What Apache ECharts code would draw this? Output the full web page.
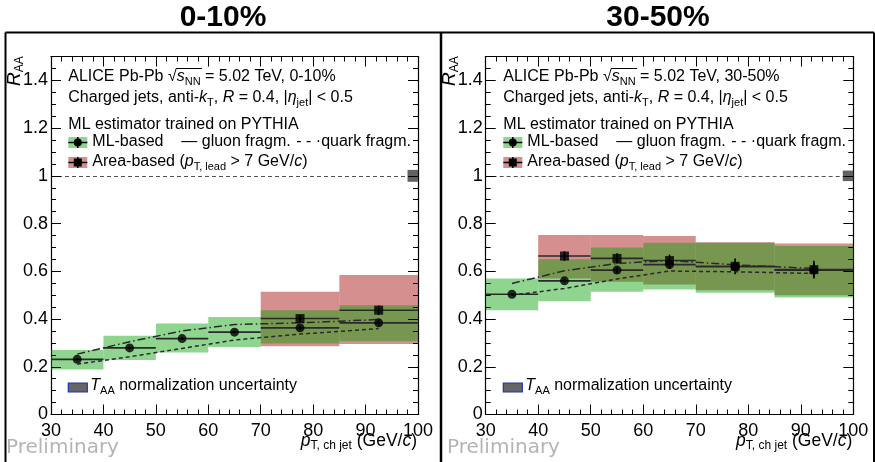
<!DOCTYPE html>
<html><head><meta charset="utf-8">
<script src="https://cdn.jsdelivr.net/npm/echarts@6/dist/echarts.min.js"></script>
<style>html,body{margin:0;padding:0;background:#fff}
#wrap{position:relative;width:875px;height:462px}
#c,#t{position:absolute;left:0;top:0;width:875px;height:462px}
#t{pointer-events:none}</style>
</head><body><div id="wrap"><div id="c"></div><div id="t"></div></div>
<script>
// ---------- data ----------
const binLo = [30, 40, 50, 60, 70, 85];
const binHi = [40, 50, 60, 70, 85, 100];
const binCenter = [35, 45, 55, 65, 77.5, 92.5];

// 0-10%
const ml010 = [0.231, 0.279, 0.318, 0.345, 0.363, 0.384];
const ml010SysLo = [0.189, 0.228, 0.260, 0.283, 0.298, 0.307];
const ml010SysHi = [0.270, 0.330, 0.381, 0.409, 0.437, 0.458];
const ml010Stat = [0.004, 0.005, 0.006, 0.007, 0.010, 0.014];
const area010Lo = [70, 85];
const area010Hi = [85, 100];
const area010Center = [77.5, 92.5];
const area010 = [0.402, 0.437];
const area010SysLo = [0.286, 0.295];
const area010SysHi = [0.514, 0.584];
const area010Stat = [0.015, 0.020];
const gluon010 = [0.253, 0.305, 0.350, 0.377, 0.384, 0.398];
const quark010 = [0.211, 0.242, 0.277, 0.312, 0.337, 0.360];

// 30-50%
const ml3050 = [0.504, 0.560, 0.605, 0.628, 0.619, 0.605];
const ml3050SysLo = [0.437, 0.475, 0.514, 0.524, 0.510, 0.490];
const ml3050SysHi = [0.570, 0.650, 0.700, 0.720, 0.720, 0.706];
const ml3050Stat = [0.005, 0.008, 0.012, 0.018, 0.025, 0.030];
const area3050Lo = [40, 50, 60, 70, 85];
const area3050Hi = [50, 60, 70, 85, 100];
const area3050Center = [45, 55, 65, 77.5, 92.5];
const area3050 = [0.664, 0.654, 0.645, 0.621, 0.607];
const area3050SysLo = [0.570, 0.556, 0.545, 0.521, 0.500];
const area3050SysHi = [0.752, 0.752, 0.748, 0.722, 0.717];
const area3050Stat = [0.020, 0.022, 0.025, 0.033, 0.037];
const gluon3050 = [0.549, 0.602, 0.633, 0.645, 0.627, 0.612];
const quark3050 = [0.500, 0.528, 0.568, 0.601, 0.598, 0.591];

// normalization (T_AA) uncertainty boxes
const taaLo = [98];
const taaHi = [100];
const taaCenter = 1;
const taaErr010 = 0.025;
const taaErr3050 = 0.022;
const unity = 1;

// axes
const xTicks = [30, 40, 50, 60, 70, 80, 90, 100];
const yMax = 1.5;
const yMajorStep = 0.2;
const yMinorStep = 0.05;
const panelTitles = ['0-10%', '30-50%'];

// ---------- style ----------
const FONT = '"Liberation Sans", Arial, Helvetica, sans-serif';
const GREEN = 'rgba(0,160,0,0.44)';
const RED = 'rgba(160,0,0,0.44)';
const LINE = '#2a2a2a';

const GRIDS = [
  {left: 51, top: 56.5, width: 367, height: 358},
  {left: 485.7, top: 56.5, width: 367.6, height: 358}
];

function boxSeries(lo, hi, ylo, yhi, color, ai, z) {
  return {
    type: 'custom', xAxisIndex: ai, yAxisIndex: ai, z: z, silent: true,
    data: lo.map((l, i) => [l, hi[i], ylo[i], yhi[i]]),
    encode: {x: [0, 1], y: [2, 3]},
    renderItem: (params, api) => {
      const p1 = api.coord([api.value(0), api.value(3)]);
      const p2 = api.coord([api.value(1), api.value(2)]);
      return {type: 'rect', shape: {x: p1[0], y: p1[1], width: p2[0] - p1[0], height: p2[1] - p1[1]},
              style: {fill: color}};
    }
  };
}

function errSeries(lo, hi, xc, y, stat, ai) {
  return {
    type: 'custom', xAxisIndex: ai, yAxisIndex: ai, z: 4, silent: true,
    data: xc.map((x, i) => [lo[i], hi[i], x, y[i], stat[i]]),
    encode: {x: [0, 1], y: 3},
    renderItem: (params, api) => {
      const a = api.coord([api.value(0), api.value(3)]);
      const b = api.coord([api.value(1), api.value(3)]);
      const c = api.coord([api.value(2), api.value(3) - api.value(4)]);
      const d = api.coord([api.value(2), api.value(3) + api.value(4)]);
      return {type: 'group', children: [
        {type: 'line', shape: {x1: a[0], y1: a[1], x2: b[0], y2: b[1]}, style: {stroke: LINE, lineWidth: 1.6}},
        {type: 'line', shape: {x1: c[0], y1: c[1], x2: d[0], y2: d[1]}, style: {stroke: '#000', lineWidth: 1.6}}
      ]};
    }
  };
}

function panelSeries(ai, d) {
  return [
    boxSeries(d.aLo, d.aHi, d.aSysLo, d.aSysHi, RED, ai, 1),
    boxSeries(binLo, binHi, d.mSysLo, d.mSysHi, GREEN, ai, 2),
    boxSeries(taaLo, taaHi, [taaCenter - d.taa], [taaCenter + d.taa], 'rgba(70,70,70,0.85)', ai, 3),
    errSeries(binLo, binHi, binCenter, d.m, d.mStat, ai),
    errSeries(d.aLo, d.aHi, d.aC, d.a, d.aStat, ai),
    {type: 'line', xAxisIndex: ai, yAxisIndex: ai, z: 5, silent: true, showSymbol: false,
     data: binCenter.map((x, i) => [x, d.g[i]]),
     lineStyle: {color: LINE, width: 1.5, type: [8, 3, 1.5, 3]},
     markLine: {symbol: 'none', silent: true, label: {show: false},
                lineStyle: {type: [4, 3], color: '#555', width: 1},
                data: [{yAxis: unity}]}},
    {type: 'line', xAxisIndex: ai, yAxisIndex: ai, z: 5, silent: true, showSymbol: false,
     data: binCenter.map((x, i) => [x, d.q[i]]),
     lineStyle: {color: LINE, width: 1.5, type: [4, 3]}},
    {type: 'scatter', xAxisIndex: ai, yAxisIndex: ai, z: 6, silent: true, symbol: 'circle', symbolSize: 9,
     itemStyle: {color: '#000'}, data: binCenter.map((x, i) => [x, d.m[i]])},
    {type: 'scatter', xAxisIndex: ai, yAxisIndex: ai, z: 6, silent: true, symbol: 'rect', symbolSize: 9,
     itemStyle: {color: '#000'}, data: d.aC.map((x, i) => [x, d.a[i]])}
  ];
}

function xAx(gi, pos, labels) {
  return {type: 'value', gridIndex: gi, position: pos, min: xTicks[0], max: xTicks[xTicks.length - 1], interval: 10,
    axisLine: {show: true, onZero: false, lineStyle: {color: '#000', width: 1.2}},
    axisTick: {show: false}, minorTick: {show: false},
    axisLabel: {show: labels, fontSize: 18, color: '#000', fontFamily: FONT, margin: 8},
    splitLine: {show: false}, minorSplitLine: {show: false}};
}
function yAx(gi, pos, labels) {
  return {type: 'value', gridIndex: gi, position: pos, min: 0, max: yMax, interval: yMajorStep,
    axisLine: {show: true, onZero: false, lineStyle: {color: '#000', width: 1.2}},
    axisTick: {show: false}, minorTick: {show: false},
    axisLabel: {show: labels, fontSize: 18, color: '#000', fontFamily: FONT, margin: 3,
      formatter: v => (v > 1.45 ? '' : String(+v.toFixed(2)))},
    splitLine: {show: false}, minorSplitLine: {show: false}};
}

// ---------- text helpers ----------
const mctx = document.createElement('canvas').getContext('2d');
function tw(s, size, italic) { mctx.font = (italic ? 'italic ' : '') + size + 'px ' + FONT; return mctx.measureText(s).width; }
const rich = {
  n: {fontSize: 16, fontFamily: FONT, color: '#000', lineHeight: 20},
  i: {fontSize: 16, fontFamily: FONT, fontStyle: 'italic', color: '#000', lineHeight: 20},
  s: {fontSize: 11, fontFamily: FONT, color: '#000', lineHeight: 11, padding: [9, 0, 0, 0]},
  xn: {fontSize: 17.5, fontFamily: FONT, color: '#000', lineHeight: 22},
  xi: {fontSize: 17.5, fontFamily: FONT, fontStyle: 'italic', color: '#000', lineHeight: 22},
  xs: {fontSize: 12, fontFamily: FONT, color: '#000', lineHeight: 12, padding: [10, 0, 0, 0]},
  yi: {fontSize: 19, fontFamily: FONT, fontStyle: 'italic', color: '#000', lineHeight: 22},
  ys: {fontSize: 12, fontFamily: FONT, color: '#000', lineHeight: 12, padding: [10, 0, 0, 0]}
};
function txt(x, y, text, align) {
  return {type: 'text', x: x, y: y, z: 100, silent: true,
    style: {text: text, rich: rich, align: align || 'left', verticalAlign: 'middle'}};
}
function ln(x1, y1, x2, y2, w) {
  return {type: 'line', z: 100, silent: true, shape: {x1: x1, y1: y1, x2: x2, y2: y2}, style: {stroke: '#000', lineWidth: w}};
}

function panelGraphics(p) {
  const L = p === 0 ? 68.3 : 503.3;
  const ar = GRIDS[p].left + GRIDS[p].width;
  const cent = panelTitles[p];
  const g = [];
  g.push({type: 'text', x: (p === 0 ? 223 : 658), y: 18, z: 100, silent: true,
    style: {text: cent, font: 'bold 30px ' + FONT, fill: '#000', align: 'center', verticalAlign: 'middle'}});
  g.push(txt(L, 77, '{n|ALICE Pb-Pb √}{i|s}{s|NN}{n| = 5.02 TeV, ' + cent + '}'));
  const x0 = L + tw('ALICE Pb-Pb √', 16) + 0.5;
  const x1 = x0 + tw('s', 16, true) + tw('NN', 11) + 1;
  g.push(ln(x0 - 1, 68.5, x1, 68.5, 1));
  g.push(txt(L, 98, '{n|Charged jets, anti-}{i|k}{s|T}{n|, }{i|R}{n| = 0.4, |}{i|η}{s|jet}{n|| < 0.5}'));
  g.push(txt(L, 125, '{n|ML estimator trained on PYTHIA}'));
  g.push({type: 'rect', z: 100, silent: true, shape: {x: L, y: 137, width: 19, height: 11}, style: {fill: GREEN}});
  g.push(ln(L, 142.5, L + 19, 142.5, 1.5));
  g.push(ln(L + 9.5, 137, L + 9.5, 148, 1.5));
  g.push({type: 'circle', z: 101, silent: true, shape: {cx: L + 9.5, cy: 142.5, r: 4}, style: {fill: '#000'}});
  g.push(txt(L + 24, 142, '{n|ML-based}'));
  g.push(txt(L + 113, 142, '{n|— gluon fragm.}'));
  g.push(txt(L + 228, 142, '{n|- - ·quark fragm.}'));
  g.push({type: 'rect', z: 100, silent: true, shape: {x: L, y: 157, width: 19, height: 11}, style: {fill: RED}});
  g.push(ln(L, 162.5, L + 19, 162.5, 1.5));
  g.push(ln(L + 9.5, 157, L + 9.5, 168, 1.5));
  g.push({type: 'rect', z: 101, silent: true, shape: {x: L + 5.5, y: 158.5, width: 8, height: 8}, style: {fill: '#000'}});
  g.push(txt(L + 24, 162, '{n|Area-based (}{i|p}{s|T, lead}{n| > 7 GeV/}{i|c}{n|)}'));
  g.push({type: 'rect', z: 100, silent: true, shape: {x: L, y: 383, width: 19, height: 9}, style: {fill: '#666', stroke: '#2233aa', lineWidth: 1.2}});
  g.push(txt(L + 22, 386, '{i|T}{s|AA}{n| normalization uncertainty}'));
  g.push(txt(ar - 1, 441, '{xi|p}{xs|T, ch jet}{xn| (GeV/}{xi|c}{xn|)}', 'right'));
  g.push({type: 'text', x: (p === 0 ? 4 : 439), y: 86, rotation: Math.PI / 2, z: 100, silent: true,
    style: {text: '{yi|R}{ys|AA}', rich: rich, align: 'left', verticalAlign: 'top'}});
  g.push({type: 'text', x: (p === 0 ? 6 : 447), y: 448, z: 100, silent: true,
    style: {text: 'Preliminary', font: '20px "DejaVu Sans", sans-serif', fill: '#b4b4b4', align: 'left', verticalAlign: 'middle'}});
  return g;
}

const graphics = [
  ln(5.5, 32.5, 874, 32.5, 2),
  ln(5.5, 32.5, 5.5, 462, 2),
  ln(874, 32.5, 874, 462, 2),
  ln(441, 32, 441, 462, 2.5)
].concat(panelGraphics(0), panelGraphics(1));

// ---------- main chart ----------
const chart = echarts.init(document.getElementById('c'));
chart.setOption({
  animation: false,
  grid: GRIDS.map(g => Object.assign({containLabel: false, outerBoundsMode: 'none'}, g)),
  xAxis: [xAx(0, 'bottom', true), xAx(0, 'top', false), xAx(1, 'bottom', true), xAx(1, 'top', false)],
  yAxis: [yAx(0, 'left', true), yAx(0, 'right', false), yAx(1, 'left', true), yAx(1, 'right', false)],
  series: [].concat(
    panelSeries(0, {m: ml010, mSysLo: ml010SysLo, mSysHi: ml010SysHi, mStat: ml010Stat,
      aLo: area010Lo, aHi: area010Hi, aC: area010Center, a: area010, aSysLo: area010SysLo, aSysHi: area010SysHi, aStat: area010Stat,
      g: gluon010, q: quark010, taa: taaErr010}),
    panelSeries(2, {m: ml3050, mSysLo: ml3050SysLo, mSysHi: ml3050SysHi, mStat: ml3050Stat,
      aLo: area3050Lo, aHi: area3050Hi, aC: area3050Center, a: area3050, aSysLo: area3050SysLo, aSysHi: area3050SysHi, aStat: area3050Stat,
      g: gluon3050, q: quark3050, taa: taaErr3050})
  )
});
chart.setOption({graphic: graphics});

// ---------- transparent overlay chart carrying only the inward frame ticks ----------
function tx(gi, pos, show) {
  return {type: 'value', gridIndex: gi, position: pos, min: xTicks[0], max: xTicks[xTicks.length - 1], interval: 10,
    axisLine: {show: false, onZero: false},
    axisTick: {show: show, inside: true, length: 10, lineStyle: {color: '#000', width: 1}},
    minorTick: {show: show, splitNumber: 5, length: 5, lineStyle: {color: '#000', width: 1}},
    axisLabel: {show: false}, splitLine: {show: false}, minorSplitLine: {show: false}};
}
function ty(gi, pos, step, len) {
  return {type: 'value', gridIndex: gi, position: pos, min: 0, max: yMax, interval: step,
    axisLine: {show: false, onZero: false},
    axisTick: {show: true, inside: true, length: len, lineStyle: {color: '#000', width: 1}},
    minorTick: {show: false},
    axisLabel: {show: false}, splitLine: {show: false}, minorSplitLine: {show: false}};
}
const ticks = echarts.init(document.getElementById('t'));
ticks.setOption({
  animation: false,
  backgroundColor: 'transparent',
  grid: GRIDS.concat(GRIDS).map(g => Object.assign({containLabel: false, outerBoundsMode: 'none'}, g)),
  xAxis: [tx(0, 'bottom', true), tx(0, 'top', true), tx(1, 'bottom', true), tx(1, 'top', true),
          tx(2, 'bottom', false), tx(3, 'bottom', false)],
  yAxis: [ty(0, 'left', yMajorStep, 10), ty(0, 'right', yMajorStep, 10), ty(1, 'left', yMajorStep, 10), ty(1, 'right', yMajorStep, 10),
          ty(2, 'left', yMinorStep, 5), ty(2, 'right', yMinorStep, 5)].concat(
          [ty(3, 'left', yMinorStep, 5), ty(3, 'right', yMinorStep, 5)]),
  series: [
    {type: 'scatter', xAxisIndex: 0, yAxisIndex: 0, data: [], silent: true},
    {type: 'scatter', xAxisIndex: 2, yAxisIndex: 2, data: [], silent: true}
  ]
});
</script>
</body></html>
